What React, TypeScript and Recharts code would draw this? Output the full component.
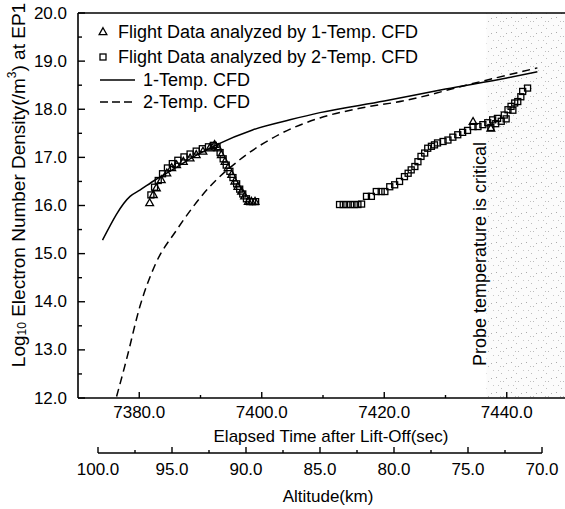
import React from 'react';
import { ComposedChart, Line, Scatter, XAxis, YAxis, ReferenceArea, ReferenceLine, Legend } from 'recharts';

const FONT = '"Liberation Sans", Arial, Helvetica, sans-serif';

const timeDomain = [7370, 7450];
const timeTicks = [7380, 7390, 7400, 7410, 7420, 7430, 7440];
const densityDomain = [12, 20];
const densityTicks = [12, 12.5, 13, 13.5, 14, 14.5, 15, 15.5, 16, 16.5, 17, 17.5, 18, 18.5, 19, 19.5, 20];
const altitudeDomain = [70, 100];
const altitudeTicks = [100, 97.5, 95, 92.5, 90, 87.5, 85, 82.5, 80, 77.5, 75, 72.5, 70];
const altitudeSpan = [{ a: 70 }, { a: 100 }];
const criticalRange = [7436.7, 7450];
const criticalLabel = 'Probe temperature is critical';

const oneTempCfd = [
  { t: 7374.0, v: 15.28 },
  { t: 7378.5, v: 16.19 },
  { t: 7380.1, v: 16.32 },
  { t: 7382.6, v: 16.53 },
  { t: 7385.8, v: 16.77 },
  { t: 7389.0, v: 17.02 },
  { t: 7392.6, v: 17.26 },
  { t: 7398.5, v: 17.57 },
  { t: 7404.6, v: 17.78 },
  { t: 7409.5, v: 17.93 },
  { t: 7420.0, v: 18.17 },
  { t: 7430.0, v: 18.42 },
  { t: 7440.0, v: 18.65 },
  { t: 7445.0, v: 18.78 },
];

const twoTempCfd = [
  { t: 7376.3, v: 12.03 },
  { t: 7377.9, v: 12.79 },
  { t: 7380.1, v: 13.9 },
  { t: 7382.6, v: 14.77 },
  { t: 7386.1, v: 15.49 },
  { t: 7391.5, v: 16.39 },
  { t: 7396.4, v: 16.95 },
  { t: 7402.9, v: 17.48 },
  { t: 7409.5, v: 17.82 },
  { t: 7416.0, v: 18.02 },
  { t: 7423.0, v: 18.17 },
  { t: 7434.0, v: 18.52 },
  { t: 7445.0, v: 18.86 },
];

const flight1Temp = [
  { t: 7381.7, v: 16.05 }, { t: 7382.3, v: 16.22 }, { t: 7382.8, v: 16.36 }, { t: 7383.6, v: 16.53 },
  { t: 7384.5, v: 16.67 }, { t: 7385.3, v: 16.78 }, { t: 7386.1, v: 16.84 }, { t: 7387.2, v: 16.91 },
  { t: 7388.3, v: 16.98 }, { t: 7389.3, v: 17.05 }, { t: 7390.4, v: 17.12 }, { t: 7391.5, v: 17.19 },
  { t: 7392.3, v: 17.26 }, { t: 7392.9, v: 17.19 }, { t: 7393.4, v: 17.05 }, { t: 7394.0, v: 16.91 },
  { t: 7394.5, v: 16.78 }, { t: 7395.1, v: 16.64 }, { t: 7395.6, v: 16.5 }, { t: 7396.1, v: 16.39 },
  { t: 7396.7, v: 16.29 }, { t: 7397.2, v: 16.19 }, { t: 7397.8, v: 16.08 }, { t: 7398.3, v: 16.08 },
  { t: 7398.9, v: 16.08 }, { t: 7434.5, v: 17.74 }, { t: 7437.4, v: 17.6 },
];

const flight2Temp = [
  { t: 7381.9, v: 16.22 }, { t: 7382.5, v: 16.38 }, { t: 7383.1, v: 16.52 }, { t: 7383.8, v: 16.66 },
  { t: 7384.6, v: 16.78 }, { t: 7385.4, v: 16.87 }, { t: 7386.3, v: 16.94 }, { t: 7387.3, v: 17.01 },
  { t: 7388.3, v: 17.07 }, { t: 7389.3, v: 17.13 }, { t: 7390.3, v: 17.18 }, { t: 7391.3, v: 17.22 },
  { t: 7392.1, v: 17.25 }, { t: 7392.7, v: 17.22 }, { t: 7393.2, v: 17.1 }, { t: 7393.7, v: 16.97 },
  { t: 7394.2, v: 16.84 }, { t: 7394.8, v: 16.71 }, { t: 7395.3, v: 16.58 }, { t: 7395.9, v: 16.45 },
  { t: 7396.4, v: 16.34 }, { t: 7396.9, v: 16.24 }, { t: 7397.5, v: 16.14 }, { t: 7398.0, v: 16.08 },
  { t: 7398.5, v: 16.08 }, { t: 7399.0, v: 16.08 },
  { t: 7412.7, v: 16.02 }, { t: 7413.3, v: 16.02 }, { t: 7413.9, v: 16.02 }, { t: 7414.5, v: 16.02 },
  { t: 7415.1, v: 16.02 }, { t: 7415.7, v: 16.02 }, { t: 7416.3, v: 16.03 }, { t: 7417.1, v: 16.19 },
  { t: 7417.9, v: 16.19 }, { t: 7418.7, v: 16.29 }, { t: 7419.5, v: 16.29 }, { t: 7420.1, v: 16.29 },
  { t: 7420.9, v: 16.39 }, { t: 7421.7, v: 16.43 }, { t: 7422.5, v: 16.5 }, { t: 7423.3, v: 16.6 },
  { t: 7423.9, v: 16.67 }, { t: 7424.4, v: 16.74 }, { t: 7425.0, v: 16.81 }, { t: 7425.5, v: 16.91 },
  { t: 7426.0, v: 17.02 }, { t: 7426.6, v: 17.09 }, { t: 7427.1, v: 17.19 }, { t: 7427.7, v: 17.23 },
  { t: 7428.2, v: 17.26 }, { t: 7428.7, v: 17.3 }, { t: 7429.6, v: 17.33 }, { t: 7430.4, v: 17.36 },
  { t: 7431.2, v: 17.42 }, { t: 7432.0, v: 17.47 }, { t: 7432.8, v: 17.52 }, { t: 7433.6, v: 17.56 },
  { t: 7434.5, v: 17.64 }, { t: 7435.3, v: 17.64 }, { t: 7436.1, v: 17.68 }, { t: 7436.9, v: 17.72 },
  { t: 7437.4, v: 17.62 }, { t: 7437.7, v: 17.78 }, { t: 7438.2, v: 17.7 }, { t: 7438.5, v: 17.81 },
  { t: 7439.1, v: 17.75 }, { t: 7439.6, v: 17.88 }, { t: 7439.9, v: 17.8 }, { t: 7440.2, v: 17.99 },
  { t: 7440.7, v: 18.06 }, { t: 7441.0, v: 17.98 }, { t: 7441.3, v: 18.13 }, { t: 7441.8, v: 18.16 },
  { t: 7442.3, v: 18.26 }, { t: 7442.6, v: 18.37 }, { t: 7443.4, v: 18.44 },
];

const legendRows = [
  { label: 'Flight Data analyzed by 1-Temp. CFD', icon: 'triangle' },
  { label: 'Flight Data analyzed by 2-Temp. CFD', icon: 'square' },
  { label: '1-Temp. CFD', icon: 'solid' },
  { label: '2-Temp. CFD', icon: 'dashed' },
];

const stippleDots = [
  [1, 2, '#aaa'], [8, 6, '#bbb'], [3, 10, '#c4c4c4'], [11, 3, '#b0b0b0'],
  [6, 13, '#bbb'], [13, 10, '#c8c8c8'], [5, 6, '#c0c0c0'],
];

const TrianglePt = (p: any) => {
  const { cx, cy } = p;
  if (cx == null || cy == null) return <g />;
  const r = 4.3;
  return (
    <path
      d={`M${cx},${cy - r} L${cx + r * 0.9},${cy + r * 0.6} L${cx - r * 0.9},${cy + r * 0.6} Z`}
      fill="none"
      stroke="#000"
      strokeWidth={1.3}
    />
  );
};

const SquarePt = (p: any) => {
  const { cx, cy } = p;
  if (cx == null || cy == null) return <g />;
  const h = 3;
  return <rect x={cx - h} y={cy - h} width={h * 2} height={h * 2} fill="none" stroke="#000" strokeWidth={1.3} />;
};

const TimeTick = (props: any) => {
  const { x, y, payload } = props;
  const major = payload.value % 20 === 0;
  return (
    <g>
      <line x1={x} y1={y} x2={x} y2={y - (major ? 6 : 3)} stroke="#000" strokeWidth={1.4} />
      {major && (
        <text x={x} y={y + 14} textAnchor="middle" dominantBaseline="central" fontSize={17} fontFamily={FONT} fill="#000">
          {payload.value.toFixed(1)}
        </text>
      )}
    </g>
  );
};

const DensityTick = (props: any) => {
  const { x, y, payload } = props;
  const major = Number.isInteger(payload.value);
  return (
    <g>
      <line x1={x} y1={y} x2={x + (major ? 7 : 4)} y2={y} stroke="#000" strokeWidth={1.4} />
      {major && (
        <text x={x - 11} y={y} textAnchor="end" dominantBaseline="central" fontSize={17} fontFamily={FONT} fill="#000">
          {payload.value.toFixed(1)}
        </text>
      )}
    </g>
  );
};

const AltTick = (props: any) => {
  const { x, y, payload } = props;
  const major = payload.value % 5 === 0;
  return (
    <g>
      <line x1={x} y1={y} x2={x} y2={y - (major ? 6 : 3)} stroke="#000" strokeWidth={1.4} />
      {major && (
        <text x={x} y={y + 16} textAnchor="middle" dominantBaseline="central" fontSize={17} fontFamily={FONT} fill="#000">
          {payload.value.toFixed(1)}
        </text>
      )}
    </g>
  );
};

const TimeTitle = (p: any) => {
  const vb = p.viewBox || {};
  return (
    <text x={vb.x + 253} y={vb.y + 38} textAnchor="middle" dominantBaseline="central" fontSize={17} fontFamily={FONT} fill="#000">
      Elapsed Time after Lift-Off(sec)
    </text>
  );
};

const AltTitle = (p: any) => {
  const vb = p.viewBox || {};
  return (
    <text x={vb.x + 230} y={vb.y + 43} textAnchor="middle" dominantBaseline="central" fontSize={17} fontFamily={FONT} fill="#000">
      Altitude(km)
    </text>
  );
};

const DensityTitle = (p: any) => {
  const vb = p.viewBox || {};
  const cx = vb.x + 18;
  const cy = vb.y + 172;
  return (
    <text
      x={cx}
      y={cy}
      transform={`rotate(-90, ${cx}, ${cy})`}
      textAnchor="middle"
      dominantBaseline="central"
      fontSize={19}
      fontFamily={FONT}
      fill="#000"
    >
      Log
      <tspan dy={4} fontSize={12}>10</tspan>
      <tspan dy={-4}> Electron Number Density(/m</tspan>
      <tspan dy={-6} fontSize={12}>3</tspan>
      <tspan dy={6}>) at EP1</tspan>
    </text>
  );
};

const CriticalArea = (p: any) => {
  const { x, y, width, height } = p;
  return (
    <g>
      <defs>
        <pattern id="stipple" x="0" y="0" width="15" height="15" patternUnits="userSpaceOnUse">
          <rect x="0" y="0" width="15" height="15" fill="#f6f6f6" fillOpacity={0.4} />
          {stippleDots.map((d, i) => (
            <rect key={i} x={d[0] as number} y={d[1] as number} width="1" height="1" fill={d[2] as string} />
          ))}
        </pattern>
      </defs>
      <rect x={x} y={y} width={width} height={height} fill="url(#stipple)" />
    </g>
  );
};

const CriticalText = (p: any) => {
  const vb = p.viewBox || {};
  const cx = vb.x - 7;
  const cy = vb.y + 241;
  return (
    <text
      x={cx}
      y={cy}
      transform={`rotate(-90, ${cx}, ${cy})`}
      textAnchor="middle"
      dominantBaseline="central"
      fontSize={18}
      fontFamily={FONT}
      fill="#000"
    >
      {criticalLabel}
    </text>
  );
};

const LegendContent = () => {
  const rowY = [14, 39, 62, 84];
  return (
    <svg width={345} height={100} style={{ display: 'block' }}>
      {legendRows.map((r, i) => {
        const y = rowY[i];
        let icon: any = null;
        let tx = 23;
        if (r.icon === 'triangle') icon = <TrianglePt cx={8} cy={y} />;
        else if (r.icon === 'square') icon = <SquarePt cx={8} cy={y} />;
        else {
          tx = 48;
          icon = (
            <line x1={5} y1={y} x2={40} y2={y} stroke="#000" strokeWidth={1.5} strokeDasharray={r.icon === 'dashed' ? '8 4' : undefined} />
          );
        }
        return (
          <g key={i}>
            {icon}
            <text x={tx} y={y} dominantBaseline="central" fontSize={18} fontFamily={FONT} fill="#000">
              {r.label}
            </text>
          </g>
        );
      })}
    </svg>
  );
};

export default function App() {
  return (
    <div style={{ position: 'absolute', left: 0, top: 0, width: 565, height: 509, overflow: 'hidden', background: '#fff' }}>
      <div style={{ position: 'absolute', left: 0, top: 0 }}>
        <ComposedChart width={575} height={509} margin={{ top: 13, right: 7, bottom: 0, left: 0 }}>
          <XAxis
            dataKey="t"
            type="number"
            domain={timeDomain}
            ticks={timeTicks}
            interval={0}
            allowDataOverflow
            height={111}
            tickSize={0}
            tickMargin={0}
            tickLine={false}
            axisLine={{ stroke: '#000', strokeWidth: 1.6 }}
            tick={<TimeTick />}
            label={(p: any) => <TimeTitle {...p} />}
          />
          <YAxis
            dataKey="v"
            type="number"
            domain={densityDomain}
            ticks={densityTicks}
            interval={0}
            allowDataOverflow
            width={78}
            tickSize={0}
            tickMargin={0}
            tickLine={false}
            axisLine={{ stroke: '#000', strokeWidth: 1.6 }}
            tick={<DensityTick />}
            label={(p: any) => <DensityTitle {...p} />}
          />
          <ReferenceArea
            x1={criticalRange[0]}
            x2={criticalRange[1]}
            y1={densityDomain[0]}
            y2={densityDomain[1]}
            shape={(p: any) => <CriticalArea {...p} />}
            label={(p: any) => <CriticalText {...p} />}
            ifOverflow="hidden"
          />
          <ReferenceLine y={20} stroke="#000" strokeWidth={1.6} />
          <Line data={oneTempCfd} dataKey="v" type="monotone" stroke="#000" strokeWidth={1.5} dot={false} isAnimationActive={false} />
          <Line data={twoTempCfd} dataKey="v" type="monotone" stroke="#000" strokeWidth={1.5} strokeDasharray="8 5" dot={false} isAnimationActive={false} />
          <Scatter data={flight1Temp} dataKey="v" shape={(p: any) => <TrianglePt {...p} />} isAnimationActive={false} />
          <Scatter data={flight2Temp} dataKey="v" shape={(p: any) => <SquarePt {...p} />} isAnimationActive={false} />
          <Legend
            layout="horizontal"
            verticalAlign="middle"
            align="center"
            wrapperStyle={{ top: 18, left: 95, width: 345, height: 100 }}
            content={() => <LegendContent />}
          />
        </ComposedChart>
      </div>
      <div style={{ position: 'absolute', left: 0, top: 0 }}>
        <ComposedChart width={575} height={509} data={altitudeSpan} margin={{ top: 13, right: 33, bottom: 0, left: 98 }}>
          <XAxis
            dataKey="a"
            type="number"
            domain={altitudeDomain}
            reversed
            ticks={altitudeTicks}
            interval={0}
            allowDataOverflow
            height={56}
            tickSize={0}
            tickMargin={0}
            tickLine={false}
            axisLine={{ stroke: '#000', strokeWidth: 1.6 }}
            tick={<AltTick />}
            label={(p: any) => <AltTitle {...p} />}
          />
          <YAxis hide domain={[0, 200]} />
          <Line dataKey="a" stroke="none" dot={false} isAnimationActive={false} />
        </ComposedChart>
      </div>
    </div>
  );
}
